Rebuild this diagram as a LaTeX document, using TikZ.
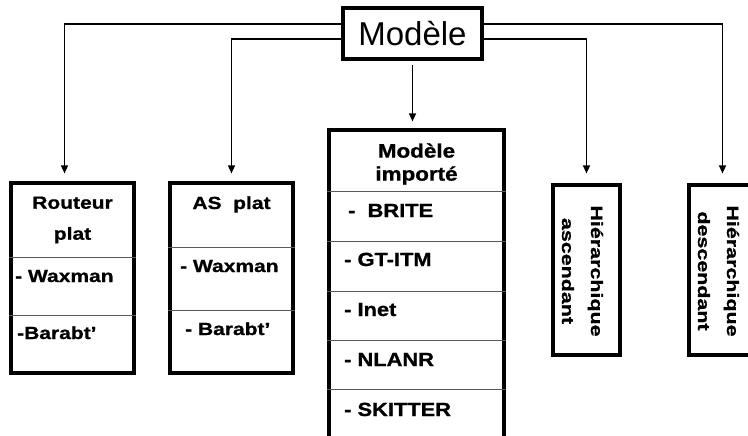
\documentclass[tikz,border=0pt]{standalone}
\usepackage{fontspec}
\setmainfont{Liberation Sans}
\newfontfamily\largfont[FakeStretch=1.2,FakeBold=1]{Liberation Sans}
\newfontfamily\moyenfont[FakeStretch=1.15,FakeBold=1]{Liberation Sans}
\newfontfamily\hautfont[FakeStretch=1.3,FakeBold=1]{Liberation Sans}
\usetikzlibrary{arrows.meta}

\begin{document}
\begin{tikzpicture}[x=1pt,y=-1pt,
  cadre/.style={draw,line width=3.2pt,inner sep=0pt},
  trait/.style={draw=black!65,line width=0.9pt},
  fleche/.style={-{Triangle[length=8pt,width=7pt]},line width=1.4pt},
  cote/.style={inner sep=0pt,font=\largfont\bfseries\fontsize{17.5}{31}\selectfont},
  item/.style={inner sep=0pt,anchor=base west,font=\moyenfont\bfseries\fontsize{19}{23}\selectfont},
  vertical/.style={inner sep=0pt,rotate=-90,align=center,font=\hautfont\bfseries\fontsize{16.5}{29}\selectfont}]
\clip (0,0) rectangle (748,436);
\fill[white] (0,0) rectangle (748,436);

\node[cadre,minimum width=139,minimum height=51,font=\fontsize{33}{36}\selectfont] (modele) at (412.5,33.5) {Modèle};

\node[cadre,minimum width=123,minimum height=190] (routeur) at (72.5,278) {};
\node[cadre,minimum width=123,minimum height=190] (asplat) at (231.5,278) {};
\node[cadre,minimum width=175,minimum height=310] (importe) at (416.5,285) {};
\node[cadre,minimum width=67,minimum height=170] (ascendant) at (586.5,270) {};
\node[cadre,minimum width=67,minimum height=170] (descendant) at (722.5,270) {};

\foreach \y in {257,315}
  \draw[trait] (routeur.west |- 0,\y) -- (routeur.east |- 0,\y);
\foreach \y in {247,310}
  \draw[trait] (asplat.west |- 0,\y) -- (asplat.east |- 0,\y);
\foreach \y in {191,241,291,340,389}
  \draw[trait] (importe.west |- 0,\y) -- (importe.east |- 0,\y);

\node[cote,align=center] (routeurT) at (72.5,220) {Routeur\\plat};
\node[cote,anchor=base west] (routeurW) at (15,282) {- Waxman};
\node[cote,anchor=base west] (routeurB) at (17,339) {-Barabt’};

\node[cote,anchor=base] (asplatT) at (231.5,209) {AS\ \ plat};
\node[cote,anchor=base west] (asplatW) at (180,272) {- Waxman};
\node[cote,anchor=base west] (asplatB) at (185,335) {- Barabt’};

\node[inner sep=0pt,align=center,font=\moyenfont\bfseries\fontsize{19.5}{23}\selectfont] (importeT) at (416.5,164) {Modèle\\importé};
\node[item] (brite) at (348,217) {-\ \ BRITE};
\node[item] (gtitm) at (344,266) {- GT-ITM};
\node[item] (inet) at (344,316) {- Inet};
\node[item] (nlanr) at (344,366) {- NLANR};
\node[item] (skitter) at (344,416) {- SKITTER};

\node[vertical] (ascendantT) at (582.5,271) {Hiérarchique\\ascendant};
\node[vertical] (descendantT) at (718.5,271) {Hiérarchique\\descendant};

\draw[fleche,shorten >=8pt] ([yshift=9.5pt]modele.west) -| ([xshift=-8pt]routeur.north);
\draw[fleche,shorten >=8pt] ([yshift=-5.5pt]modele.west) -| (asplat.north);
\draw[fleche,shorten <=4pt,shorten >=7pt] (modele.south) -- (modele.south |- importe.north);
\draw[fleche,shorten >=10pt] ([yshift=-5.5pt]modele.east) -| (ascendant.north);
\draw[fleche,shorten >=10pt] ([yshift=9.5pt]modele.east) -| (descendant.north);
\end{tikzpicture}
\end{document}
